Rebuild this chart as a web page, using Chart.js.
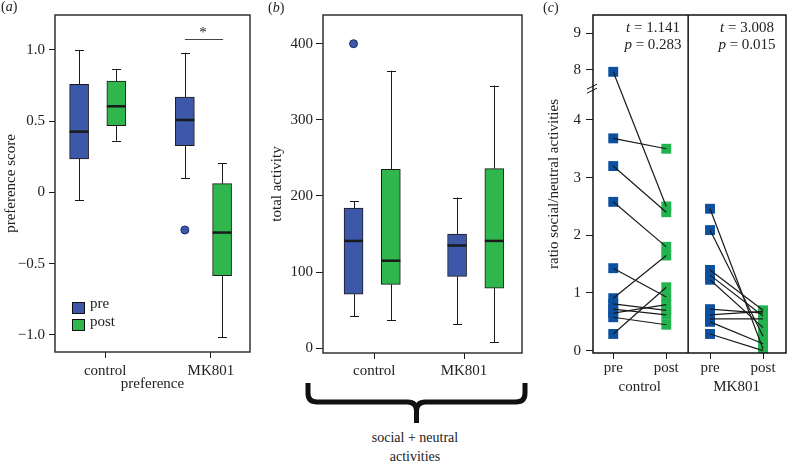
<!DOCTYPE html>
<html><head><meta charset="utf-8">
<script src="https://cdn.jsdelivr.net/npm/chart.js@4.4.1/dist/chart.umd.min.js"></script>
<style>
html,body{margin:0;padding:0;background:#fff;}
#fig{position:relative;width:793px;height:464px;overflow:hidden;background:#fff;font-family:'Liberation Serif','Times New Roman',serif;color:#222;}
#fig canvas{position:absolute;top:0;}
.lbl{position:absolute;white-space:nowrap;font-size:15px;line-height:15px;font-family:'Liberation Serif','Times New Roman',serif;}
.ctr{transform:translateX(-50%);text-align:center;}
.sw{position:absolute;width:11px;height:10px;border:1px solid #111;}
</style></head><body>
<div id="fig">
<canvas id="ca" width="256" height="393" style="left:0px"></canvas>
<canvas id="cb" width="268" height="430" style="left:262px"></canvas>
<canvas id="cc" width="253" height="400" style="left:540px"></canvas>
</div>
<script>
// ---------------- data ----------------
const groups = ['control', 'MK801'];
const seriesNames = ['pre', 'post'];
const panelLabels = ['a', 'b', 'c'];

// (a) preference score: [min whisker, Q1, median, Q3, max whisker] per group
const prefPre  = [[-0.053, 0.235, 0.427, 0.759, 1.0], [0.10, 0.328, 0.509, 0.67, 0.981]];
const prefPost = [[0.364, 0.469, 0.605, 0.782, 0.867], [-1.014, -0.584, -0.281, 0.062, 0.205]];
const prefOutPre  = [[], [-0.263]];
const prefOutPost = [[], []];
const prefTicks = [-1.0, -0.5, 0, 0.5, 1.0];
const prefTitleX = 'preference';
const prefTitleY = 'preference score';
const sigText = '*';

// (b) total activity
const actPre  = [[42, 71, 141, 184, 193], [31.5, 94.5, 135, 150, 198]];
const actPost = [[37, 84, 115, 235, 364.5], [8, 79, 141, 236, 345]];
const actOutPre  = [[400], []];
const actOutPost = [[], []];
const actTicks = [0, 100, 200, 300, 400];
const actTitleY = 'total activity';
const braceText = ['social + neutral', 'activities'];

// (c) ratio social/neutral activities, paired pre/post per animal
const ratioCtrlPre  = [7.85, 3.68, 3.2, 2.58, 1.43, 0.91, 0.81, 0.72, 0.65, 0.58, 0.29];
const ratioCtrlPost = [2.5, 3.5, 2.4, 1.8, 0.93, 1.65, 0.70, 0.62, 0.80, 0.45, 1.10];
const ratioMKPre    = [2.46, 2.09, 1.40, 1.31, 1.23, 0.72, 0.62, 0.55, 0.50, 0.29];
const ratioMKPost   = [0.03, 0.25, 0.70, 0.60, 0.40, 0.65, 0.68, 0.55, 0.12, 0.00];
const ratioTicks = [0, 1, 2, 3, 4, 8, 9];
const ratioTitleY = 'ratio social/neutral activities';
const tTests = [{t: '1.141', p: '0.283'}, {t: '3.008', p: '0.015'}];

// ---------------- style ----------------
const BLUE_BOX = '#3d57a9', GREEN_BOX = '#2fb64c';
const BLUE_PT = '#0b4f9e', GREEN_PT = '#22b34f';
const INK = '#1a1a1a';
Chart.defaults.font.family = "'Liberation Serif','Times New Roman',serif";
Chart.defaults.font.size = 15;
Chart.defaults.color = '#222';
Chart.defaults.animation = false;

// broken axis transform for panel (c): 0-4 linear, 4-8 compressed, 8-9 expanded
function brk(v) {
  if (v <= 4) return v;
  if (v <= 8) return 4 + (v - 4) * 0.2165;
  return 4.866 + (v - 8) * 0.635;
}
const minus = v => (v < 0 ? '\u2212' : '') + Math.abs(v).toFixed(1);

// ---------------- plugins ----------------
const frame = (color, lw) => ({
  id: 'frame',
  afterDraw(chart) {
    const {ctx, chartArea: a} = chart;
    ctx.save(); ctx.strokeStyle = color; ctx.lineWidth = lw;
    ctx.strokeRect(a.left, a.top, a.right - a.left, a.bottom - a.top);
    ctx.restore();
  }
});
const whiskers = {
  id: 'whiskers',
  afterDatasetsDraw(chart) {
    const ctx = chart.ctx, ys = chart.scales.y;
    chart.data.datasets.forEach((ds, di) => {
      if (!ds.stats) return;
      chart.getDatasetMeta(di).data.forEach((bar, i) => {
        const s = ds.stats[i];
        const x = Math.round(bar.x) + 0.5, hw = bar.width / 2, cw = 4.5;
        const p = v => ys.getPixelForValue(v);
        ctx.save();
        ctx.strokeStyle = INK; ctx.lineWidth = 1;
        ctx.beginPath();
        ctx.moveTo(x, p(s[3])); ctx.lineTo(x, p(s[4]));
        ctx.moveTo(x - cw, Math.round(p(s[4])) + 0.5); ctx.lineTo(x + cw, Math.round(p(s[4])) + 0.5);
        ctx.moveTo(x, p(s[1])); ctx.lineTo(x, p(s[0]));
        ctx.moveTo(x - cw, Math.round(p(s[0])) + 0.5); ctx.lineTo(x + cw, Math.round(p(s[0])) + 0.5);
        ctx.stroke();
        ctx.lineWidth = 2.5;
        ctx.beginPath(); ctx.moveTo(bar.x - hw, p(s[2])); ctx.lineTo(bar.x + hw, p(s[2])); ctx.stroke();
        ctx.restore();
      });
    });
  }
};

function yAxis(opts) {
  return {
    type: 'linear', min: opts.min, max: opts.max,
    grid: {drawOnChartArea: false, drawTicks: true, tickLength: opts.tl, color: INK},
    border: {display: false},
    afterBuildTicks: s => { s.ticks = opts.ticks.map(v => ({value: opts.map ? opts.map(v) : v})); },
    ticks: {padding: opts.pad, autoSkip: false, callback: (v, i) => opts.fmt(opts.ticks[i])},
    title: {display: true, text: opts.title, padding: {top: opts.tpad, bottom: 0}},
    afterFit: s => { s.width = opts.width; }
  };
}
function xAxis(opts) {
  return {
    type: 'linear', min: opts.min, max: opts.max, offset: false, position: 'bottom', weight: opts.weight || 0,
    grid: {display: opts.tl > 0, drawOnChartArea: false, drawTicks: opts.tl > 0, tickLength: opts.tl, color: INK, offset: false},
    border: {display: false},
    afterBuildTicks: s => { s.ticks = opts.pos.map(v => ({value: v})); },
    ticks: {padding: opts.pad, autoSkip: false, maxRotation: 0, callback: (v, i) => opts.labels[i]},
    title: opts.title ? {display: true, text: opts.title, padding: {top: 0, bottom: 0}} : {display: false},
    afterFit: s => { s.height = opts.height; }
  };
}
function boxDatasets(pre, post, outPre, outPost, off) {
  const bar = (stats, sign, color, name) => ({
    type: 'bar', label: name, stats,
    data: stats.map((s, i) => ({x: i + sign * off, y: [s[1], s[3]]})),
    backgroundColor: color, borderColor: INK, borderWidth: 1, borderSkipped: false,
    barThickness: 19, grouped: false, order: 2
  });
  const outs = [];
  outPre.forEach((arr, i) => arr.forEach(v => outs.push({x: i - off, y: v})));
  outPost.forEach((arr, i) => arr.forEach(v => outs.push({x: i + off, y: v})));
  return [
    bar(pre, -1, BLUE_BOX, seriesNames[0]),
    bar(post, 1, GREEN_BOX, seriesNames[1]),
    {type: 'scatter', label: 'outliers', data: outs, pointRadius: 4, pointHoverRadius: 4,
     backgroundColor: BLUE_BOX, borderColor: '#1c2b66', borderWidth: 1, order: 1}
  ];
}
const common = {
  responsive: false, maintainAspectRatio: false, devicePixelRatio: 1, events: [],
};

// ---------------- panel (a) ----------------
const A_OFF = 0.176;
new Chart(document.getElementById('ca'), {
  type: 'bar',
  data: {datasets: boxDatasets(prefPre, prefPost, prefOutPre, prefOutPost, A_OFF)},
  options: Object.assign({}, common, {
    layout: {padding: {left: 0, top: 15, right: 6, bottom: 0}},
    plugins: {legend: {display: false}, tooltip: {enabled: false}},
    scales: {
      x: xAxis({min: -0.404, max: 1.44, pos: groups.map((g, i) => i + 0.07), labels: groups, tl: 6, pad: 4, height: 41, title: prefTitleX}),
      y: yAxis({min: -1.1193, max: 1.2456, ticks: prefTicks, fmt: v => v === 0 ? '0' : minus(v), tl: 6, pad: 4, title: prefTitleY, tpad: 2, width: 55})
    }
  }),
  plugins: [whiskers, frame('#333', 1.5), {
    id: 'sig',
    afterDraw(chart) {
      const {ctx} = chart, m = chart.getDatasetMeta(0).data[1], n = chart.getDatasetMeta(1).data[1];
      const y = Math.round(chart.scales.y.getPixelForValue(1.077)) + 0.5;
      ctx.save(); ctx.strokeStyle = '#444'; ctx.lineWidth = 1.2;
      ctx.beginPath(); ctx.moveTo(m.x, y); ctx.lineTo(n.x + 1, y); ctx.stroke(); ctx.restore();
    }
  }]
});

// ---------------- panel (b) ----------------
const B_OFF = 0.18;
new Chart(document.getElementById('cb'), {
  type: 'bar',
  data: {datasets: boxDatasets(actPre, actPost, actOutPre, actOutPost, B_OFF)},
  options: Object.assign({}, common, {
    layout: {padding: {left: 0, top: 15, right: 8, bottom: 0}},
    plugins: {legend: {display: false}, tooltip: {enabled: false}},
    scales: {
      x: xAxis({min: -0.475, max: 1.447, pos: [0.02, 0.887], labels: groups, tl: 6, pad: 3, height: 77}),
      y: yAxis({min: -6.2, max: 437.7, ticks: actTicks, fmt: v => String(v), tl: 7, pad: 3, title: actTitleY, tpad: 6, width: 61})
    }
  }),
  plugins: [whiskers, frame('#333', 1.5), {
    id: 'brace',
    afterDraw(chart) {
      const {ctx, chartArea: a} = chart;
      const x1 = a.left - 15, x2 = a.right + 3, xc = (x1 + x2) / 2;
      const yTop = a.bottom + 30, yMid = a.bottom + 49, yTip = a.bottom + 70, r = 9;
      ctx.save(); ctx.strokeStyle = '#111'; ctx.lineWidth = 5; ctx.lineJoin = 'round';
      ctx.beginPath();
      ctx.moveTo(x1, yTop); ctx.lineTo(x1, yMid - r); ctx.quadraticCurveTo(x1, yMid, x1 + r, yMid);
      ctx.lineTo(xc - r, yMid); ctx.quadraticCurveTo(xc, yMid, xc, yMid + r); ctx.lineTo(xc, yTip);
      ctx.moveTo(x2, yTop); ctx.lineTo(x2, yMid - r); ctx.quadraticCurveTo(x2, yMid, x2 - r, yMid);
      ctx.lineTo(xc + r, yMid); ctx.quadraticCurveTo(xc, yMid, xc, yMid + r);
      ctx.stroke(); ctx.restore();
    }
  }]
});

// ---------------- panel (c) ----------------
const C_OFF = 0.274;
const cDatasets = [];
[[ratioCtrlPre, ratioCtrlPost], [ratioMKPre, ratioMKPost]].forEach(([pre, post], gi) => {
  pre.forEach((v, k) => {
    cDatasets.push({label: 'pair', showLine: true, data: [{x: gi - C_OFF, y: brk(v)}, {x: gi + C_OFF, y: brk(post[k])}],
      borderColor: INK, borderWidth: 1.2, pointRadius: 0, order: 0});
  });
});
[[ratioCtrlPre, ratioMKPre, -1, BLUE_PT], [ratioCtrlPost, ratioMKPost, 1, GREEN_PT]].forEach(([a, b, sign, col]) => {
  cDatasets.push({label: 'pts', showLine: false, pointStyle: 'rect', pointRadius: 7, pointHoverRadius: 7,
    backgroundColor: col, borderWidth: 0, order: 1,
    data: a.map(v => ({x: 0 + sign * C_OFF, y: brk(v)})).concat(b.map(v => ({x: 1 + sign * C_OFF, y: brk(v)})))});
});
new Chart(document.getElementById('cc'), {
  type: 'scatter',
  data: {datasets: cDatasets},
  options: Object.assign({}, common, {
    layout: {padding: {left: 0, top: 15, right: 1, bottom: 0}},
    plugins: {legend: {display: false}, tooltip: {enabled: false}},
    scales: {
      x: xAxis({min: -0.483, max: 1.511, pos: [-C_OFF, C_OFF, 1 - C_OFF, 1 + C_OFF], labels: [seriesNames[0], seriesNames[1], seriesNames[0], seriesNames[1]], tl: 6, pad: 0, height: 22}),
      x2: xAxis({min: -0.483, max: 1.511, pos: [0, 1], labels: groups, tl: 0, pad: 3, height: 25, weight: 1}),
      y: yAxis({min: -0.04, max: 5.818, ticks: ratioTicks, map: brk, fmt: v => String(v), tl: 7, pad: 5, title: ratioTitleY, tpad: 5, width: 53})
    }
  }),
  plugins: [frame('#111', 1.5), {
    id: 'divider',
    afterDraw(chart) {
      const {ctx, chartArea: a, scales} = chart;
      const x = scales.x.getPixelForValue(0.5);
      ctx.save(); ctx.strokeStyle = '#111'; ctx.lineWidth = 1.5;
      ctx.beginPath(); ctx.moveTo(x, a.top); ctx.lineTo(x, a.bottom); ctx.stroke();
      const yb = scales.y.getPixelForValue(4.55);
      ctx.lineWidth = 1;
      ctx.beginPath();
      ctx.moveTo(a.left - 6, yb + 1); ctx.lineTo(a.left + 4, yb - 4);
      ctx.moveTo(a.left - 6, yb + 5); ctx.lineTo(a.left + 4, yb);
      ctx.stroke(); ctx.restore();
    }
  }]
});

// ---------------- HTML annotations ----------------
const fig = document.getElementById('fig');
function addText(build, left, top, center, size) {
  const d = document.createElement('div');
  d.className = 'lbl' + (center ? ' ctr' : '');
  build(d);
  d.style.left = left + 'px'; d.style.top = top + 'px';
  if (size) { d.style.fontSize = size + 'px'; d.style.lineHeight = size + 'px'; }
  fig.appendChild(d);
}
function italicLine(d, prefix, it, rest) {
  if (prefix) d.appendChild(document.createTextNode(prefix));
  const i = document.createElement('i'); i.textContent = it; d.appendChild(i);
  d.appendChild(document.createTextNode(rest));
}
[[1, 0], [268, 1], [543, 1]].forEach(([l, t], k) => addText(d => italicLine(d, '(', panelLabels[k], ')'), l, t, false, 14));
// legend (a)
[[BLUE_BOX, 302, 296], [GREEN_BOX, 319, 314]].forEach(([col, sy, ty], k) => {
  const s = document.createElement('div'); s.className = 'sw';
  s.style.left = '72px'; s.style.top = sy + 'px'; s.style.background = col; fig.appendChild(s);
  addText(d => { d.textContent = seriesNames[k]; }, 90, ty, false);
});
addText(d => { d.textContent = sigText; }, 203, 25, true);
// t-tests (c)
[653, 747].forEach((cx, k) => {
  addText(d => italicLine(d, '', 't', ' = ' + tTests[k].t), cx, 20, true);
  addText(d => italicLine(d, '', 'p', ' = ' + tTests[k].p), cx, 37, true);
});
// brace text (b)
addText(d => { d.textContent = braceText[0]; }, 415, 431, true, 14);
addText(d => { d.textContent = braceText[1]; }, 415, 450, true, 14);
</script>
</body></html>
